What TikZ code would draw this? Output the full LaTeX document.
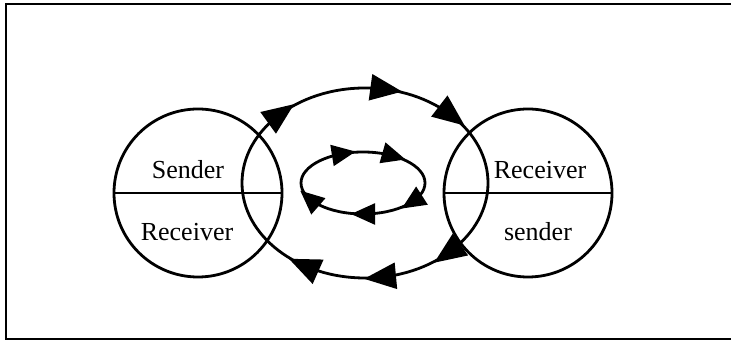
\documentclass[tikz,border=0pt]{standalone}
\usepackage{fontspec}
\setmainfont{Liberation Serif}
\usetikzlibrary{arrows.meta,calc}
\tikzset{
  ring/.style={line width=1.4pt},
  rahmen/.style={line width=1.1pt},
  spitzeg/.style={-{Triangle[length=16pt,width=13pt]},line width=1.4pt},
  spitzek/.style={-{Triangle[length=12pt,width=10.5pt]},line width=1.2pt},
  lbl/.style={font=\fontsize{13}{15}\selectfont,inner sep=0pt},
}

\begin{document}
\begin{tikzpicture}[x=0.5pt,y=0.5pt]
  \useasboundingbox (0,0) rectangle (731,341);
  % frame, open to the right
  \draw[rahmen] (731,337) -- (6,337) -- (6,2) -- (731,2);
  \coordinate (lk) at (198,148);
  \coordinate (rk) at (528,148);
  \coordinate (gross) at (365,158);
  \coordinate (klein) at (363,158);
  % both parties
  \draw[ring] (lk) circle[radius=84];
  \draw[ring] ($(lk)+(-84,0)$) -- ($(lk)+(84,0)$);
  \draw[ring] (rk) circle[radius=84];
  \draw[ring] ($(rk)+(-84,0)$) -- ($(rk)+(84,0)$);
  \node[lbl] (sl) at (188,171) {Sender};
  \node[lbl] (rl) at (187,109) {Receiver};
  \node[lbl] (rr) at (540,171) {Receiver};
  \node[lbl] (sr) at (538,109) {sender};
  % outer loop
  \draw[ring] (gross) ellipse[x radius=123,y radius=95];
  \foreach \t in {133,80,45,-48,-83,-120}
    \draw[spitzeg] ($(gross)+(\t:123 and 95)$) -- ++({atan2(-95*cos(\t),123*sin(\t))}:16);
  % inner loop
  \draw[ring] (klein) ellipse[x radius=62,y radius=31];
  \foreach \t in {108,60,-38,-90,-150}
    \draw[spitzek] ($(klein)+(\t:62 and 31)$) -- ++({atan2(-31*cos(\t),62*sin(\t))}:12);
\end{tikzpicture}
\end{document}
